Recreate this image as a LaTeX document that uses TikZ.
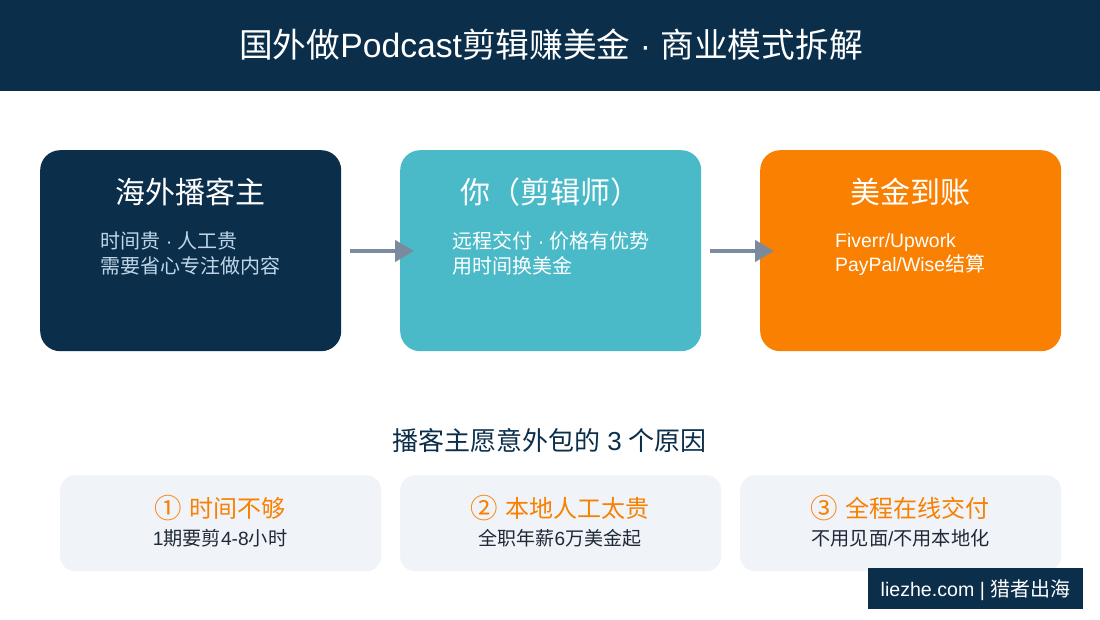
\documentclass[tikz,border=0pt]{standalone}
\usepackage{fontspec}
\setmainfont{Liberation Sans}
\newfontfamily\cjk{Noto Sans CJK SC}
\usetikzlibrary{arrows.meta}
\definecolor{navy}{HTML}{0B2E4A}
\definecolor{teal}{HTML}{4ABAC8}
\definecolor{orng}{HTML}{F98000}
\definecolor{pale}{HTML}{F0F3F8}
\definecolor{greyc}{HTML}{7B8A9C}
\definecolor{lblue}{HTML}{BFD6E8}
\definecolor{ink}{HTML}{1F2A37}
\newcommand{\fs}[1]{\fontsize{#1}{#1}\selectfont}
\newcommand{\zh}[1]{{\cjk #1}}
\newcommand{\circd}[1]{\raisebox{-1pt}{\cjk\fontsize{27.5}{27.5}\selectfont #1}}
\tikzset{
 x=1pt,y=-1pt,
 txt/.style={inner sep=0pt,anchor=base west},
 mid/.style={inner sep=0pt,anchor=base},
 bigbox/.style={inner sep=0pt,rounded corners=20pt,minimum width=301pt,minimum height=201pt,anchor=north west},
 smallbox/.style={inner sep=0pt,rounded corners=15pt,fill=pale,minimum width=321pt,minimum height=96pt,anchor=north west},
 flow/.style={draw=greyc,line width=4.5pt,-{Triangle[length=19pt,width=21pt]}}
}
\begin{document}
\begin{tikzpicture}
\useasboundingbox (0,0) rectangle (1100,620);
\fill[white] (0,0) rectangle (1100,620);
\fill[navy] (0,0) rectangle (1100,91);
\node[mid,text=white] (title) at (551,58) {\fs{33.7}\zh{国外做}Podcast\zh{剪辑赚美金} · \zh{商业模式拆解}};
\node[bigbox,fill=navy] (a) at (40,150) {};
\node[bigbox,fill=teal] (b) at (400,150) {};
\node[bigbox,fill=orng] (c) at (760,150) {};
\draw[flow] (350,251) -- (414,251);
\draw[flow] (710,251) -- (774,251);
\node[mid,text=white] (t1) at (190,204) {\fs{30}\zh{海外播客主}};
\node[mid,text=white] (t2) at (550,204) {\fs{30}\zh{你（剪辑师）}};
\node[mid,text=white] (t3) at (910,204) {\fs{30}\zh{美金到账}};
\node[txt,text=lblue] (d1a) at (100,249) {\fs{20}\zh{时间贵} · \zh{人工贵}};
\node[txt,text=lblue] (d1b) at (100,273) {\fs{20}\zh{需要省心专注做内容}};
\node[txt,text=white] (d2a) at (452,249) {\fs{20}\zh{远程交付} · \zh{价格有优势}};
\node[txt,text=white] (d2b) at (452,273) {\fs{20}\zh{用时间换美金}};
\node[txt,text=white] (d3a) at (835,248) {\fs{19.4}Fiverr/Upwork};
\node[txt,text=white] (d3b) at (835,272) {\fs{19.4}PayPal/Wise{\fs{20}\zh{结算}}};
\node[mid,text=navy] (h) at (549.5,450) {\fs{26}\zh{播客主愿意外包的} 3 \zh{个原因}};
\node[smallbox] (s1) at (60,475) {};
\node[smallbox] (s2) at (400,475) {};
\node[smallbox] (s3) at (740,475) {};
\node[mid,text=orng] (k1) at (220,517) {\fs{24}\circd{①} \zh{时间不够}};
\node[mid,text=orng] (k2) at (560,517) {\fs{24}\circd{②} \zh{本地人工太贵}};
\node[mid,text=orng] (k3) at (900,517) {\fs{24}\circd{③} \zh{全程在线交付}};
\node[mid,text=ink] (m1) at (220,545) {\fs{19.2}1\zh{期要剪}4-8\zh{小时}};
\node[mid,text=ink] (m2) at (560,545) {\fs{19}\zh{全职年薪}6\zh{万美金起}};
\node[mid,text=ink] (m3) at (900.5,545) {\fs{19.2}\zh{不用见面}/\zh{不用本地化}};
\fill[navy] (868,568) rectangle (1083,609);
\node[mid,text=white] (foot) at (975.5,596) {\fs{19.6}liezhe.com | {\fs{20}\zh{猎者出海}}};
\end{tikzpicture}
\end{document}
